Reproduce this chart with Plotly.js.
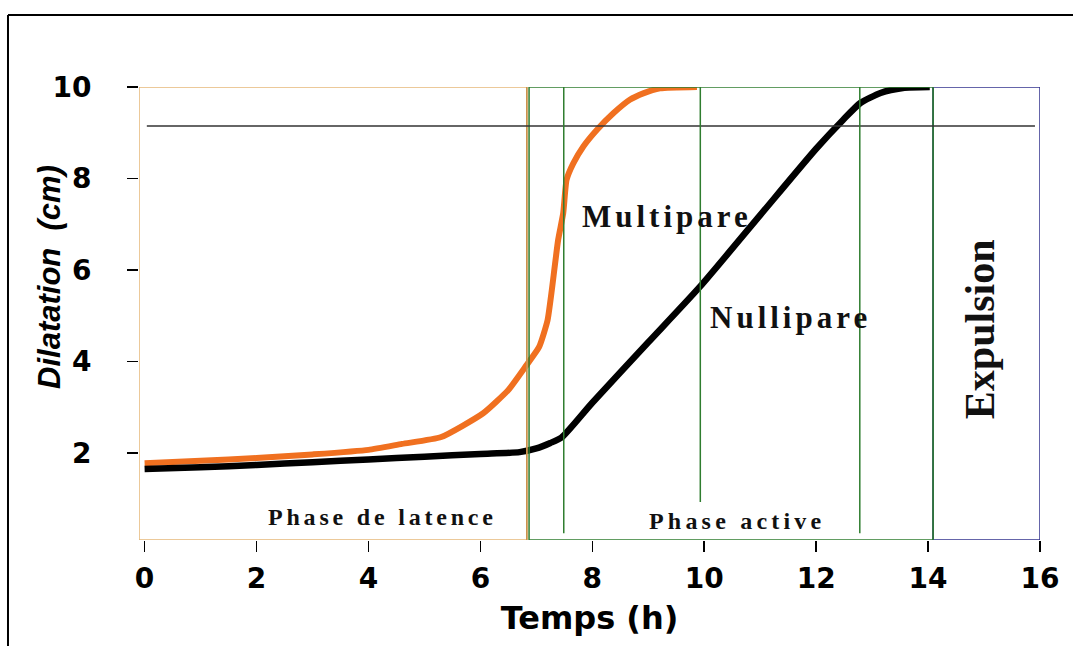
<!DOCTYPE html>
<html>
<head>
<meta charset="utf-8">
<script src="https://cdn.plot.ly/plotly-3.0.1.min.js"></script>
<style>html,body{margin:0;padding:0;background:#fff;}</style>
</head>
<body>
<div id="chart" style="width:1073px;height:646px;"></div>
<script>
// Nullipare (black curve)
const nulliX = [0, 1, 2, 3, 4, 5, 6, 6.7, 7.0, 7.25, 7.45, 8.0, 9.0, 9.92, 11.0, 12.0, 12.48, 12.79, 13.15, 13.55, 14.03];
const nulliY = [1.65, 1.69, 1.74, 1.8, 1.86, 1.92, 1.98, 2.02, 2.1, 2.22, 2.34, 3.1, 4.42, 5.63, 7.2, 8.65, 9.28, 9.65, 9.87, 9.98, 10.0];
// Multipare (orange curve)
const multiX = [0, 1, 2, 3, 4, 4.6, 5.3, 6.05, 6.5, 6.8, 7.05, 7.2, 7.27, 7.39, 7.48, 7.54, 7.66, 7.84, 8.08, 8.38, 8.67, 8.91, 9.21, 9.87];
const multiY = [1.78, 1.83, 1.89, 1.97, 2.07, 2.2, 2.35, 2.87, 3.38, 3.88, 4.32, 4.9, 5.5, 6.66, 7.24, 7.97, 8.33, 8.7, 9.06, 9.43, 9.72, 9.86, 9.97, 10.0];
// x ticks
const xTicks = [0, 2, 4, 6, 8, 10, 12, 14, 16];
const yTicks = [2, 4, 6, 8, 10];
// phase boundaries (h)
const latenceEnd = 6.83;
const activeStart = 6.87;
const activeInner = [7.49, 9.93, 12.78];
const activeInnerBottom = [0.25, 0.93, 0.25];
const activeEnd = 14.09;
const expulsionEnd = 16;
const fullDilatation = 9.15;

const xMin = -0.1, xMax = 16, yMin = 0.1, yMax = 10;

const serif = 'Liberation Serif, Times New Roman, serif';
const sans = 'DejaVu Sans, sans-serif';

const shapes = [
  // outer frame (top and left)
  {type:'line', xref:'paper', yref:'paper', x0:-0.1454, x1:1.2, y0:1.159, y1:1.159, line:{color:'#000', width:2}},
  {type:'line', xref:'paper', yref:'paper', x0:-0.1454, x1:-0.1454, y0:-0.3, y1:1.159, line:{color:'#000', width:2}},
  // latence phase
  {type:'rect', xref:'x', yref:'y', x0:xMin, x1:latenceEnd, y0:yMin, y1:yMax, line:{color:'#e6b878', width:1.5}},
  {type:'line', xref:'x', yref:'y', x0:latenceEnd, x1:latenceEnd, y0:yMin, y1:yMax, line:{color:'#c8904a', width:1.5}},
  // active phase
  {type:'rect', xref:'x', yref:'y', x0:activeStart, x1:activeEnd, y0:yMin, y1:yMax, line:{color:'#2f7d2f', width:1.5}},
  // expulsion
  {type:'rect', xref:'x', yref:'y', x0:activeEnd, x1:expulsionEnd, y0:yMin, y1:yMax, line:{color:'#33338f', width:1.5}},
  // green line on top of blue rect edge
  {type:'line', xref:'x', yref:'y', x0:activeEnd, x1:activeEnd, y0:yMin, y1:yMax, line:{color:'#2f7d2f', width:1.5}},
  // full dilatation line
  {type:'line', xref:'x', yref:'y', x0:0.04, x1:15.91, y0:fullDilatation, y1:fullDilatation, line:{color:'#333', width:1.5}}
];
activeInner.forEach((xv, i) => {
  shapes.push({type:'line', xref:'x', yref:'y', x0:xv, x1:xv, y0:activeInnerBottom[i], y1:yMax, line:{color:'#2f7d2f', width:1.5}});
});

const spaced = (t, s) => '<span style="letter-spacing:' + s + 'px">' + t + '</span>';

const annotations = [
  {x:9.33, y:7.16, xref:'x', yref:'y', xanchor:'center', yanchor:'middle', text:spaced('Multipare', 4), showarrow:false,
   font:{family:serif, size:31, weight:'bold', color:'#111'}},
  {x:11.55, y:4.97, xref:'x', yref:'y', xanchor:'center', yanchor:'middle', text:spaced('Nullipare', 4), showarrow:false,
   font:{family:serif, size:31, weight:'bold', color:'#111'}},
  {x:4.25, y:0.6, xref:'x', yref:'y', xanchor:'center', yanchor:'middle', text:spaced('Phase de latence', 3.8), showarrow:false,
   font:{family:serif, size:24, weight:'bold', color:'#111'}},
  {x:10.58, y:0.52, xref:'x', yref:'y', xanchor:'center', yanchor:'middle', text:spaced('Phase active', 4.2), showarrow:false,
   font:{family:serif, size:24, weight:'bold', color:'#111'}},
  {x:14.93, y:4.71, xref:'x', yref:'y', xanchor:'center', yanchor:'middle', text:'Expulsion', textangle:-90, showarrow:false,
   font:{family:serif, size:42, weight:'bold', color:'#111'}},
  {x:-0.0988, y:0.5806, xref:'paper', yref:'paper', xanchor:'center', yanchor:'middle', text:'Dilatation  (cm)', textangle:-90, showarrow:false,
   font:{family:'Liberation Sans, Arial, sans-serif', size:31, weight:'bold', style:'italic', color:'#000'}}
];

const traces = [
  {x:multiX, y:multiY, type:'scatter', mode:'lines', name:'Multipare',
   line:{color:'#f07020', width:6, shape:'spline', smoothing:0.5}},
  {x:nulliX, y:nulliY, type:'scatter', mode:'lines', name:'Nullipare',
   line:{color:'#000', width:6.5, shape:'spline', smoothing:0.6}}
];

const layout = {
  width:1073, height:646,
  margin:{l:139, r:33, t:87, b:106},
  paper_bgcolor:'#fff', plot_bgcolor:'#fff',
  showlegend:false,
  xaxis:{
    range:[xMin, xMax], tickvals:xTicks, ticktext:xTicks.map(String),
    ticks:'outside', ticklen:11, tickwidth:1.5, tickcolor:'#000',
    showgrid:false, zeroline:false, showline:false,
    tickfont:{family:sans, size:28, weight:'bold', color:'#000'},
    ticklabelstandoff:2,
    title:{text:'Temps (h)', font:{family:sans, size:32, weight:'bold', color:'#000'}, standoff:13}
  },
  yaxis:{
    range:[yMin, yMax], tickvals:yTicks, ticktext:yTicks.map(String),
    ticks:'outside', ticklen:11, tickwidth:1.5, tickcolor:'#000',
    showgrid:false, zeroline:false, showline:false,
    tickfont:{family:sans, size:28, weight:'bold', color:'#000'},
    ticklabelstandoff:30
  },
  shapes:shapes,
  annotations:annotations
};

Plotly.newPlot('chart', traces, layout, {displayModeBar:false, staticPlot:true});
</script>
</body>
</html>
